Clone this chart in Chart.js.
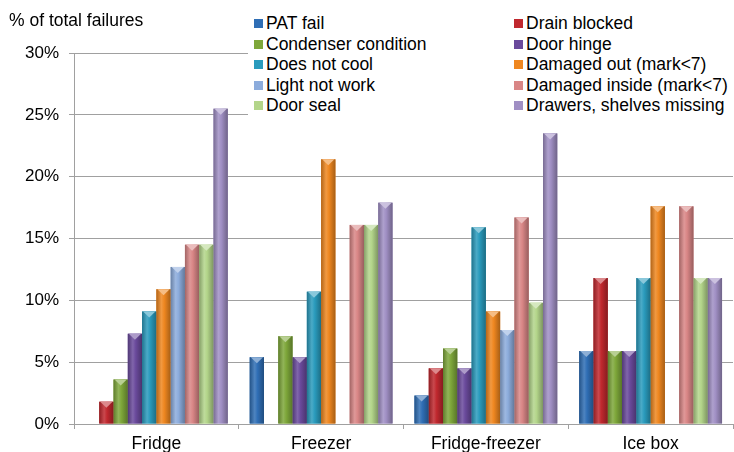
<!DOCTYPE html>
<html>
<head>
<meta charset="utf-8">
<script src="https://cdn.jsdelivr.net/npm/chart.js@4/dist/chart.umd.min.js"></script>
<style>
html,body{margin:0;padding:0;background:#fff;}
#wrap{position:relative;width:734px;height:452px;font-family:"Liberation Sans",Arial,sans-serif;}
#c{position:absolute;left:0;top:0;}
#ytitle{position:absolute;left:9px;top:10px;font-size:17.5px;line-height:20px;color:#000;white-space:nowrap;}
#legend{position:absolute;left:248px;top:9px;width:486px;height:108px;background:#fff;font-size:17.5px;color:#000;}
.li{position:absolute;white-space:nowrap;line-height:20px;height:20px;}
.li span.box{display:inline-block;width:9px;height:9px;margin-right:3px;vertical-align:1px;}
</style>
</head>
<body>
<div id="wrap">
<canvas id="c" width="734" height="452"></canvas>
<div id="ytitle">% of total failures</div>
<div id="legend"></div>
</div>
<script>
const categories = ["Fridge", "Freezer", "Fridge-freezer", "Ice box"];
const seriesNames = ["PAT fail", "Drain blocked", "Condenser condition", "Door hinge", "Does not cool",
  "Damaged out (mark<7)", "Light not work", "Damaged inside (mark<7)", "Door seal", "Drawers, shelves missing"];
const patFail        = [0,    5.4,  2.3,  5.9];
const drainBlocked   = [1.8,  0,    4.5,  11.8];
const condenser      = [3.6,  7.1,  6.1,  5.9];
const doorHinge      = [7.3,  5.4,  4.5,  5.9];
const doesNotCool    = [9.1,  10.7, 15.9, 11.8];
const damagedOut     = [10.9, 21.4, 9.1,  17.6];
const lightNotWork   = [12.7, 0,    7.6,  0];
const damagedInside  = [14.5, 16.1, 16.7, 17.6];
const doorSeal       = [14.5, 16.1, 9.8,  11.8];
const drawersMissing = [25.5, 17.9, 23.5, 11.8];
const yTicks = [0, 5, 10, 15, 20, 25, 30];

const seriesData = [patFail, drainBlocked, condenser, doorHinge, doesNotCool, damagedOut, lightNotWork, damagedInside, doorSeal, drawersMissing];
const colors = ["#2f6eb5", "#c0282e", "#7ea73a", "#6a4a9c", "#2a9bbd", "#ef8720", "#8cacdc", "#d98686", "#b3d58a", "#a08fc4"];

// HTML legend (2 columns, 5 rows, row-major order)
const legend = document.getElementById('legend');
seriesNames.forEach((n, i) => {
  const col = i % 2, row = Math.floor(i / 2);
  const d = document.createElement('div');
  d.className = 'li';
  d.style.left = (col === 0 ? 6 : 266) + 'px';
  d.style.top = (4 + row * 20.6) + 'px';
  const b = document.createElement('span');
  b.className = 'box';
  b.style.background = colors[i];
  d.appendChild(b);
  d.appendChild(document.createTextNode(n));
  legend.appendChild(d);
});

function shade(hex, amt) {
  let r = parseInt(hex.substr(1,2),16), g = parseInt(hex.substr(3,2),16), b = parseInt(hex.substr(5,2),16);
  const f = v => Math.max(0, Math.min(255, Math.round(amt < 0 ? v * (1 + amt) : v + (255 - v) * amt)));
  return 'rgb(' + f(r) + ',' + f(g) + ',' + f(b) + ')';
}

const bevel = {
  id: 'bevel',
  afterDatasetsDraw(chart) {
    const ctx = chart.ctx;
    chart.data.datasets.forEach((ds, di) => {
      const meta = chart.getDatasetMeta(di);
      meta.data.forEach((el, i) => {
        const v = ds.data[i];
        if (!v) return;
        const w = el.width, x0 = el.x - w / 2, top = el.y, base = el.base;
        const g = ctx.createLinearGradient(x0, 0, x0 + w, 0);
        g.addColorStop(0, shade(colors[di], -0.25));
        g.addColorStop(0.35, shade(colors[di], 0.15));
        g.addColorStop(0.55, colors[di]);
        g.addColorStop(1, shade(colors[di], -0.3));
        ctx.save();
        ctx.fillStyle = g;
        ctx.fillRect(x0, top, w, base - top);
        ctx.fillStyle = shade(colors[di], 0.45);
        ctx.beginPath();
        ctx.moveTo(x0 + 1, top);
        ctx.lineTo(x0 + w - 1, top);
        ctx.lineTo(el.x, top + Math.min(6, (base - top)));
        ctx.closePath();
        ctx.fill();
        ctx.restore();
      });
    });
  }
};

new Chart(document.getElementById('c'), {
  type: 'bar',
  data: {
    labels: categories,
    datasets: seriesNames.map((n, i) => ({
      label: n,
      data: seriesData[i],
      backgroundColor: colors[i],
      borderWidth: 0,
      barPercentage: 1.0,
      categoryPercentage: 0.867
    }))
  },
  options: {
    responsive: false,
    animation: false,
    events: [],
    layout: { padding: { top: 53, right: 1, left: 0, bottom: 0 } },
    plugins: { legend: { display: false }, tooltip: { enabled: false } },
    scales: {
      x: {
        grid: { display: true, drawOnChartArea: false, drawTicks: true, tickLength: 5, color: '#a0a0a0', offset: true },
        border: { display: true, color: '#a0a0a0', width: 1 },
        ticks: { color: '#000', font: { family: 'Liberation Sans, Arial, sans-serif', size: 17.5 }, padding: 5 },
        afterFit(s) { s.height = 28; }
      },
      y: {
        min: 0, max: 30,
        afterBuildTicks(s) { s.ticks = yTicks.map(v => ({ value: v })); },
        grid: { color: '#a0a0a0', tickLength: 5, lineWidth: 1 },
        border: { display: true, color: '#a0a0a0', width: 1 },
        ticks: { color: '#000', font: { family: 'Liberation Sans, Arial, sans-serif', size: 17 }, padding: 10,
                 callback: v => v + '%' },
        afterFit(s) { s.width = 74; }
      }
    }
  },
  plugins: [bevel]
});
</script>
</body>
</html>
